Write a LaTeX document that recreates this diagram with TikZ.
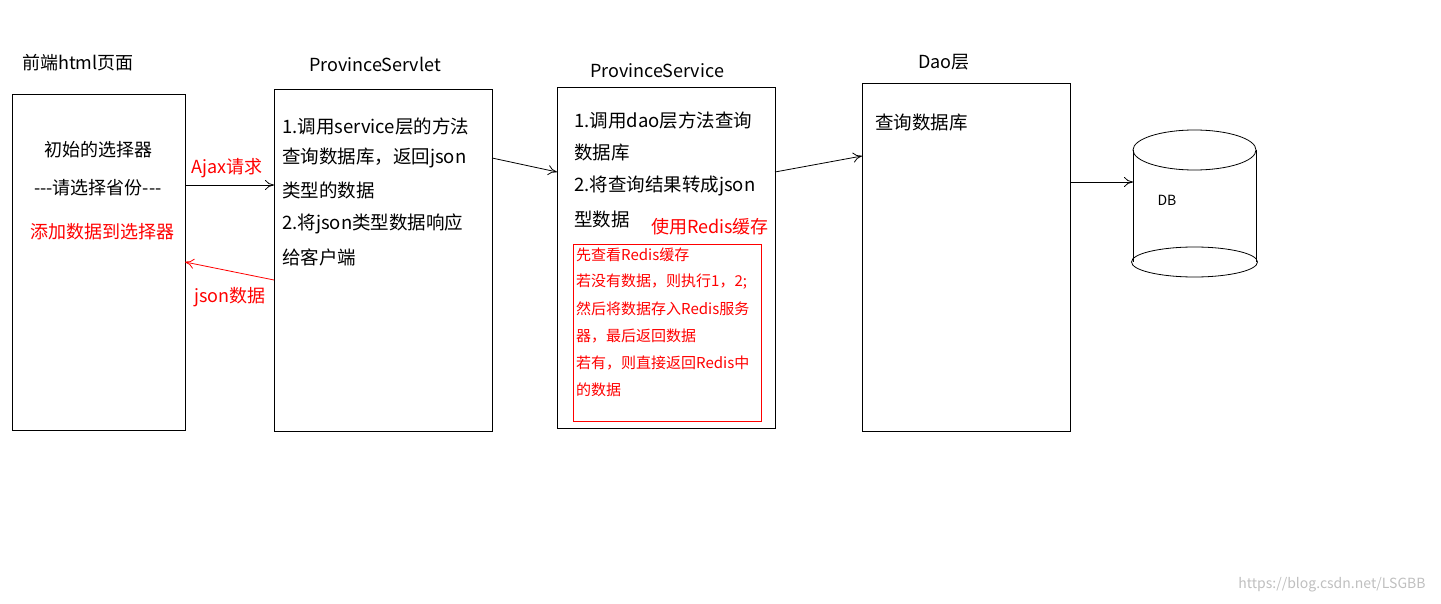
\documentclass[tikz,border=0pt]{standalone}
\usepackage{fontspec}
\setmainfont{Noto Sans CJK SC}
\usetikzlibrary{arrows.meta}
\begin{document}
\begin{tikzpicture}[x=1pt,y=-1pt,
  box/.style={draw,line width=0.8pt},
  t/.style={anchor=west,inner sep=0pt,font=\fontsize{18.5}{20}\selectfont},
  rt/.style={anchor=west,inner sep=0pt,font=\fontsize{15}{17}\selectfont,text=red},
  arr/.style={line width=0.8pt,-{To[length=9pt,width=10pt]}},
  lab/.style={inner sep=0pt,font=\fontsize{18}{20}\selectfont}]
\useasboundingbox (0,0) rectangle (1441,604);
\node[box,minimum width=173pt,minimum height=336pt] (b1) at (98.5,262) {};
\node[box,minimum width=218pt,minimum height=342pt] (b2) at (383,260) {};
\node[box,minimum width=218pt,minimum height=341pt] (b3) at (666,257.5) {};
\node[box,minimum width=208pt,minimum height=348pt] (b4) at (966,257) {};
\node[draw=red,line width=0.6pt,minimum width=188pt,minimum height=177pt] (rb) at (667,332.5) {};
\node[lab] (h1) at (78,63) {前端html页面};
\node[lab] (h2) at (375,64) {ProvinceServlet};
\node[lab] (h3) at (657,71) {ProvinceService};
\node[lab] (h4) at (944,62) {Dao层};
\node[lab] (a1) at (98,150) {初始的选择器};
\node[lab] (a2) at (98,188) {{-}{-}{-}请选择省份{-}{-}{-}};
\node[lab,text=red] (a3) at (102,232) {添加数据到选择器};
\node[t] (s1) at (282,126) {1.调用service层的方法};
\node[t] (s2) at (282,158) {查询数据库，返回json};
\node[t] (s3) at (282,190) {类型的数据};
\node[t] (s4) at (282,224) {2.将json类型数据响应};
\node[t] (s5) at (282,257) {给客户端};
\node[t] (v1) at (574,120) {1.调用dao层方法查询};
\node[t] (v2) at (574,153) {数据库};
\node[t] (v3) at (574,186) {2.将查询结果转成json};
\node[t] (v4) at (574,219) {型数据};
\node[lab,text=red] (v5) at (710,227) {使用Redis缓存};
\node[rt] (r1) at (576,255) {先查看Redis缓存};
\node[rt] (r2) at (576,282) {若没有数据，则执行1，2;};
\node[rt] (r3) at (576,309) {然后将数据存入Redis服务};
\node[rt] (r4) at (576,336) {器，最后返回数据};
\node[rt] (r5) at (576,363) {若有，则直接返回Redis中};
\node[rt] (r6) at (576,390) {的数据};
\node[t] (d1) at (875,123) {查询数据库};
\draw[line width=0.8pt] (1194.5,150) ellipse [x radius=61.5, y radius=20];
\draw[line width=0.8pt] (1194.5,262) ellipse [x radius=63, y radius=15];
\draw[line width=0.8pt] (1133,150) -- (1133,262) (1256,150) -- (1256,262);
\node[inner sep=0pt,font=\fontsize{14}{16}\selectfont] (db) at (1167,200) {DB};
\coordinate (cl) at (1133,182);
\coordinate (p1) at (185,185); \coordinate (p2) at (274,185);
\draw[arr] (p1) -- (p2);
\node[lab,text=red] (aj) at (227,168) {Ajax请求};
\coordinate (q1) at (274,280); \coordinate (q2) at (185,262);
\draw[arr,red] (q1) -- (q2);
\node[lab,text=red] (js) at (230,297) {json数据};
\coordinate (m1) at (492,158); \coordinate (m2) at (557,172);
\draw[arr] (m1) -- (m2);
\coordinate (n1) at (775,172); \coordinate (n2) at (862,156);
\draw[arr] (n1) -- (n2);
\coordinate (o1) at (1070,182);
\draw[arr] (o1) -- (cl);
\node[inner sep=0pt,text=black!25,font=\fontsize{14}{16}\selectfont] (wm) at (1332,585) {https://blog.csdn.net/LSGBB};
\end{tikzpicture}
\end{document}
